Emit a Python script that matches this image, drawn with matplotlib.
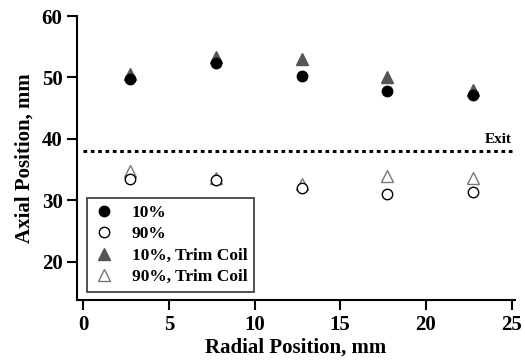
import numpy as np
import matplotlib.pyplot as plt

# data
radial = [2.75, 7.75, 12.75, 17.75, 22.75]
axial_10 = [49.8, 52.3, 50.2, 47.8, 47.2]
axial_90 = [33.4, 33.3, 32.0, 31.1, 31.3]
axial_10_trim = [50.6, 53.4, 53.0, 50.0, 48.0]
axial_90_trim = [34.8, 33.6, 32.6, 33.9, 33.7]
exit_pos = 38.0

plt.rcParams["font.family"] = "Liberation Serif"
plt.rcParams["font.weight"] = "bold"

fig = plt.figure(figsize=(5.25, 3.64), dpi=100)
ax = fig.add_axes([0.147, 0.176, 0.834, 0.78])

ax.plot(radial, axial_10, "o", color="black", ms=7.5, label="10%", zorder=3)
ax.plot(radial, axial_90, "o", mfc="white", mec="black", mew=1.0, ms=7.5, label="90%", zorder=3)
ax.plot(radial, axial_10_trim, "^", color="#555555", ms=8, label="10%, Trim Coil", zorder=2)
ax.plot(radial, axial_90_trim, "^", mfc="white", mec="#777777", mew=1.0, ms=8, label="90%, Trim Coil", zorder=2)

ax.plot([0, 25], [exit_pos, exit_pos], color="black", ls=(0, (1.2, 1.2)), lw=2.2)
ax.text(25, exit_pos + 0.8, "Exit", ha="right", va="bottom", fontsize=11, fontweight="bold")

ax.set_xlim(-0.35, 25.2)
ax.set_ylim(13.8, 60)
ax.set_xticks([0, 5, 10, 15, 20, 25])
ax.set_yticks([20, 30, 40, 50, 60])
ax.spines["top"].set_visible(False)
ax.spines["right"].set_visible(False)
ax.spines["left"].set_linewidth(1.5)
ax.spines["bottom"].set_linewidth(1.5)
ax.tick_params(direction="out", length=7, width=1.5, labelsize=15)
for lbl in ax.get_xticklabels() + ax.get_yticklabels():
    lbl.set_fontweight("bold")

ax.set_xlabel("Radial Position, mm", fontsize=15, fontweight="bold", labelpad=2)
ax.set_ylabel("Axial Position, mm", fontsize=15, fontweight="bold", labelpad=5)

leg = ax.legend(loc="lower left", bbox_to_anchor=(0.01, 0.01), fontsize=12.5, frameon=True,
                fancybox=False, edgecolor="black", handletextpad=1.0, borderpad=0.4,
                labelspacing=0.3, handlelength=1.2, borderaxespad=0.3)
leg.get_frame().set_linewidth(1.2)
for t in leg.get_texts():
    t.set_fontweight("bold")

fig.savefig("out.png", dpi=100)
